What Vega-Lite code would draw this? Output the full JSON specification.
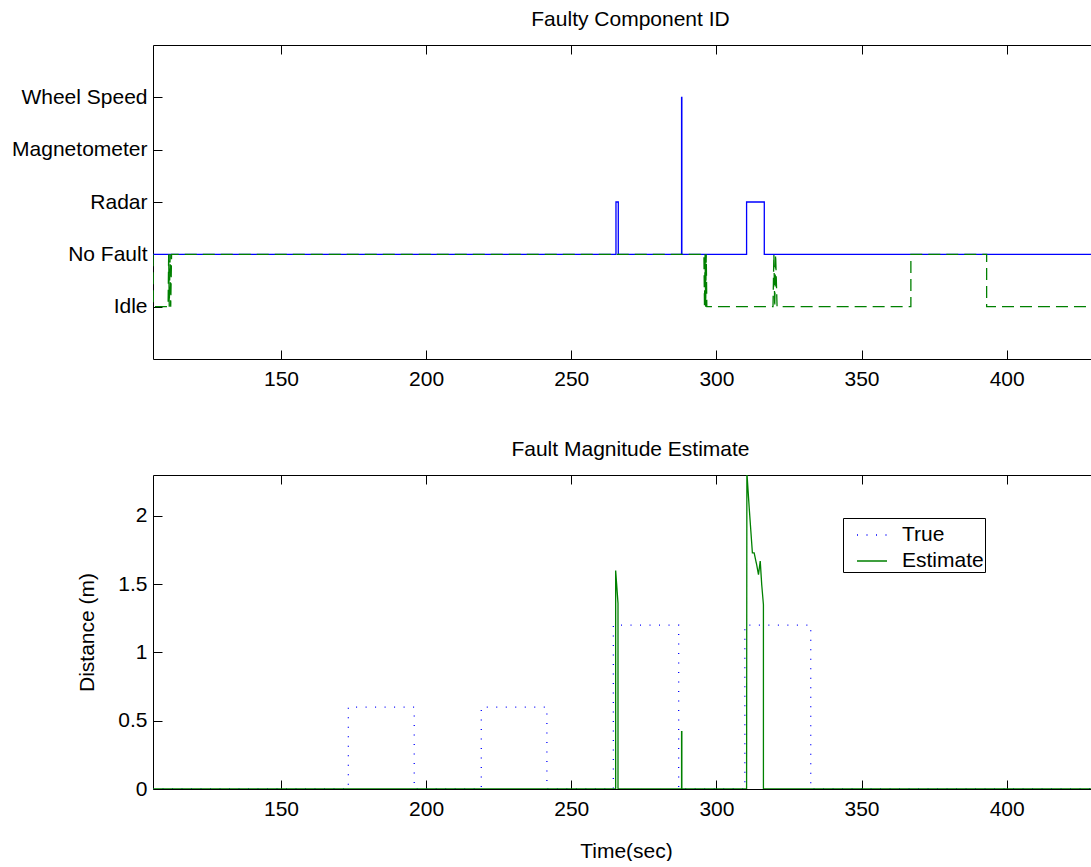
{
  "$schema": "https://vega.github.io/schema/vega-lite/v6.json",
  "background": "white",
  "padding": {"left": 11, "top": 8, "right": 0, "bottom": 0},
  "spacing": 49,
  "datasets": {
    "cid_blue": [
      {"t": 105.9, "id": 0}, {"t": 265.4, "id": 0}, {"t": 265.4, "id": 1}, {"t": 266.2, "id": 1}, {"t": 266.2, "id": 0},
      {"t": 288.0, "id": 0}, {"t": 288.0, "id": 3}, {"t": 288.1, "id": 3}, {"t": 288.1, "id": 0},
      {"t": 310.4, "id": 0}, {"t": 310.4, "id": 1}, {"t": 316.5, "id": 1}, {"t": 316.5, "id": 0}, {"t": 429.4, "id": 0}
    ],
    "cid_green": [
      {"t": 105.9, "id": 0}, {"t": 106.0, "id": -1}, {"t": 111.1, "id": -1}, {"t": 111.3, "id": 0}, {"t": 111.5, "id": -1},
      {"t": 111.8, "id": 0}, {"t": 112.0, "id": -1}, {"t": 112.3, "id": 0},
      {"t": 295.7, "id": 0}, {"t": 295.9, "id": -1}, {"t": 296.1, "id": 0}, {"t": 296.3, "id": -1}, {"t": 296.5, "id": 0}, {"t": 296.7, "id": -1},
      {"t": 319.5, "id": -1}, {"t": 319.8, "id": 0}, {"t": 320.1, "id": -1}, {"t": 320.4, "id": 0}, {"t": 320.9, "id": -1},
      {"t": 367.0, "id": -1}, {"t": 367.0, "id": 0}, {"t": 393.1, "id": 0}, {"t": 393.1, "id": -1}, {"t": 429.4, "id": -1}
    ],
    "mag_true": [
      {"t": 105.9, "d": 0, "series": "True"}, {"t": 173.2, "d": 0, "series": "True"}, {"t": 173.2, "d": 0.6, "series": "True"},
      {"t": 195.9, "d": 0.6, "series": "True"}, {"t": 195.9, "d": 0, "series": "True"}, {"t": 219.0, "d": 0, "series": "True"},
      {"t": 219.0, "d": 0.6, "series": "True"}, {"t": 241.6, "d": 0.6, "series": "True"}, {"t": 241.6, "d": 0, "series": "True"},
      {"t": 264.5, "d": 0, "series": "True"}, {"t": 264.5, "d": 1.2, "series": "True"}, {"t": 287.0, "d": 1.2, "series": "True"},
      {"t": 287.0, "d": 0, "series": "True"}, {"t": 309.8, "d": 0, "series": "True"}, {"t": 309.8, "d": 1.2, "series": "True"},
      {"t": 332.5, "d": 1.2, "series": "True"}, {"t": 332.5, "d": 0, "series": "True"}, {"t": 429.4, "d": 0, "series": "True"}
    ],
    "mag_est": [
      {"t": 105.9, "d": 0, "series": "Estimate"}, {"t": 265.3, "d": 0, "series": "Estimate"}, {"t": 265.3, "d": 1.6, "series": "Estimate"},
      {"t": 266.1, "d": 1.36, "series": "Estimate"}, {"t": 266.1, "d": 0, "series": "Estimate"}, {"t": 288.0, "d": 0, "series": "Estimate"},
      {"t": 288.0, "d": 0.42, "series": "Estimate"}, {"t": 288.1, "d": 0.42, "series": "Estimate"}, {"t": 288.1, "d": 0, "series": "Estimate"},
      {"t": 310.4, "d": 0, "series": "Estimate"}, {"t": 310.5, "d": 2.32, "series": "Estimate"}, {"t": 311.3, "d": 2.06, "series": "Estimate"},
      {"t": 312.4, "d": 1.73, "series": "Estimate"}, {"t": 313.0, "d": 1.73, "series": "Estimate"}, {"t": 313.9, "d": 1.64, "series": "Estimate"},
      {"t": 314.5, "d": 1.57, "series": "Estimate"}, {"t": 315.1, "d": 1.67, "series": "Estimate"}, {"t": 315.6, "d": 1.5, "series": "Estimate"},
      {"t": 316.2, "d": 1.35, "series": "Estimate"}, {"t": 316.2, "d": 0, "series": "Estimate"}, {"t": 429.4, "d": 0, "series": "Estimate"}
    ]
  },
  "vconcat": [
    {
      "width": 939,
      "height": 314,
      "title": {"text": "Faulty Component ID", "dx": 8, "offset": 15},
      "layer": [
        {
          "data": {"name": "cid_blue"},
          "mark": {"type": "line", "stroke": "#0000ff", "strokeWidth": 1.3, "clip": true},
          "encoding": {
            "x": {"field": "t", "type": "quantitative", "scale": {"domain": [105.9, 429.4], "nice": false, "zero": false},
                  "axis": {"orient": "bottom", "values": [150, 200, 250, 300, 350, 400], "format": "d", "title": null, "labelPadding": 18}},
            "y": {"field": "id", "type": "quantitative", "scale": {"domain": [-2, 4], "nice": false},
                  "axis": {"orient": "left", "values": [-1, 0, 1, 2, 3], "title": null, "labelPadding": 15,
                           "labelExpr": "datum.value == -1 ? 'Idle' : datum.value == 0 ? 'No Fault' : datum.value == 1 ? 'Radar' : datum.value == 2 ? 'Magnetometer' : 'Wheel Speed'"}},
            "order": {"value": null}
          }
        },
        {
          "data": {"name": "cid_green"},
          "mark": {"type": "line", "stroke": "#008000", "strokeWidth": 1.3, "strokeDash": [12, 6], "clip": true},
          "encoding": {
            "x": {"field": "t", "type": "quantitative",
                  "axis": {"orient": "top", "values": [150, 200, 250, 300, 350, 400], "labels": false, "title": null}},
            "y": {"field": "id", "type": "quantitative", "axis": null},
            "order": {"value": null}
          }
        }
      ],
      "resolve": {"axis": {"x": "independent", "y": "independent"}}
    },
    {
      "width": 939,
      "height": 314,
      "title": {"text": "Fault Magnitude Estimate", "dx": 8, "offset": 15},
      "layer": [
        {
          "data": {"name": "mag_true"},
          "mark": {"type": "line", "strokeWidth": 1.3, "clip": true},
          "encoding": {
            "x": {"field": "t", "type": "quantitative", "scale": {"domain": [105.9, 429.4], "nice": false, "zero": false},
                  "axis": {"orient": "bottom", "values": [150, 200, 250, 300, 350, 400], "format": "d", "title": "Time(sec)", "labelPadding": 18, "titlePadding": 21, "titleX": 473}},
            "y": {"field": "d", "type": "quantitative", "scale": {"domain": [0, 2.3], "nice": false},
                  "axis": {"orient": "left", "values": [0, 0.5, 1, 1.5, 2], "format": "~g", "title": "Distance (m)", "labelPadding": 15, "titlePadding": 20}},
            "color": {"field": "series", "type": "nominal", "scale": {"domain": ["True", "Estimate"], "range": ["#0000ff", "#008000"]}, "title": null,
                      "legend": {"labelExpr": "datum.label + '\u00a0\u00a0'"}},
            "strokeDash": {"field": "series", "type": "nominal", "scale": {"domain": ["True", "Estimate"], "range": [[1, 8.5], [1, 0]]}, "title": null,
                           "legend": {"labelExpr": "datum.label + '\u00a0\u00a0'"}},
            "order": {"value": null}
          }
        },
        {
          "data": {"name": "mag_est"},
          "mark": {"type": "line", "strokeWidth": 1.3, "clip": true},
          "encoding": {
            "x": {"field": "t", "type": "quantitative",
                  "axis": {"orient": "top", "values": [150, 200, 250, 300, 350, 400], "labels": false, "title": null}},
            "y": {"field": "d", "type": "quantitative", "axis": null},
            "color": {"field": "series", "type": "nominal", "title": null},
            "strokeDash": {"field": "series", "type": "nominal", "title": null},
            "order": {"value": null}
          }
        }
      ],
      "resolve": {"axis": {"x": "independent", "y": "independent"}}
    }
  ],
  "config": {
    "font": "Liberation Sans",
    "view": {"stroke": null},
    "title": {"fontSize": 21, "fontWeight": "normal", "color": "black", "font": "Liberation Sans"},
    "axis": {
      "labelFont": "Liberation Sans", "labelFontSize": 21, "labelColor": "black",
      "titleFont": "Liberation Sans", "titleFontSize": 21, "titleFontWeight": "normal", "titleColor": "black",
      "domainColor": "black", "domainWidth": 1, "tickColor": "black", "tickWidth": 1, "tickSize": -9,
      "grid": false, "labelFlush": false, "labelOverlap": false
    },
    "legend": {
      "orient": "none", "legendX": 690, "legendY": 473, "strokeColor": "black", "fillColor": "white",
      "padding": 1, "symbolType": "stroke", "symbolSize": 900, "symbolStrokeWidth": 1.3, "symbolOffset": 12,
      "labelFont": "Liberation Sans", "labelFontSize": 21, "labelColor": "black", "labelOffset": 14, "rowPadding": 0,
      "cornerRadius": 0
    }
  }
}
